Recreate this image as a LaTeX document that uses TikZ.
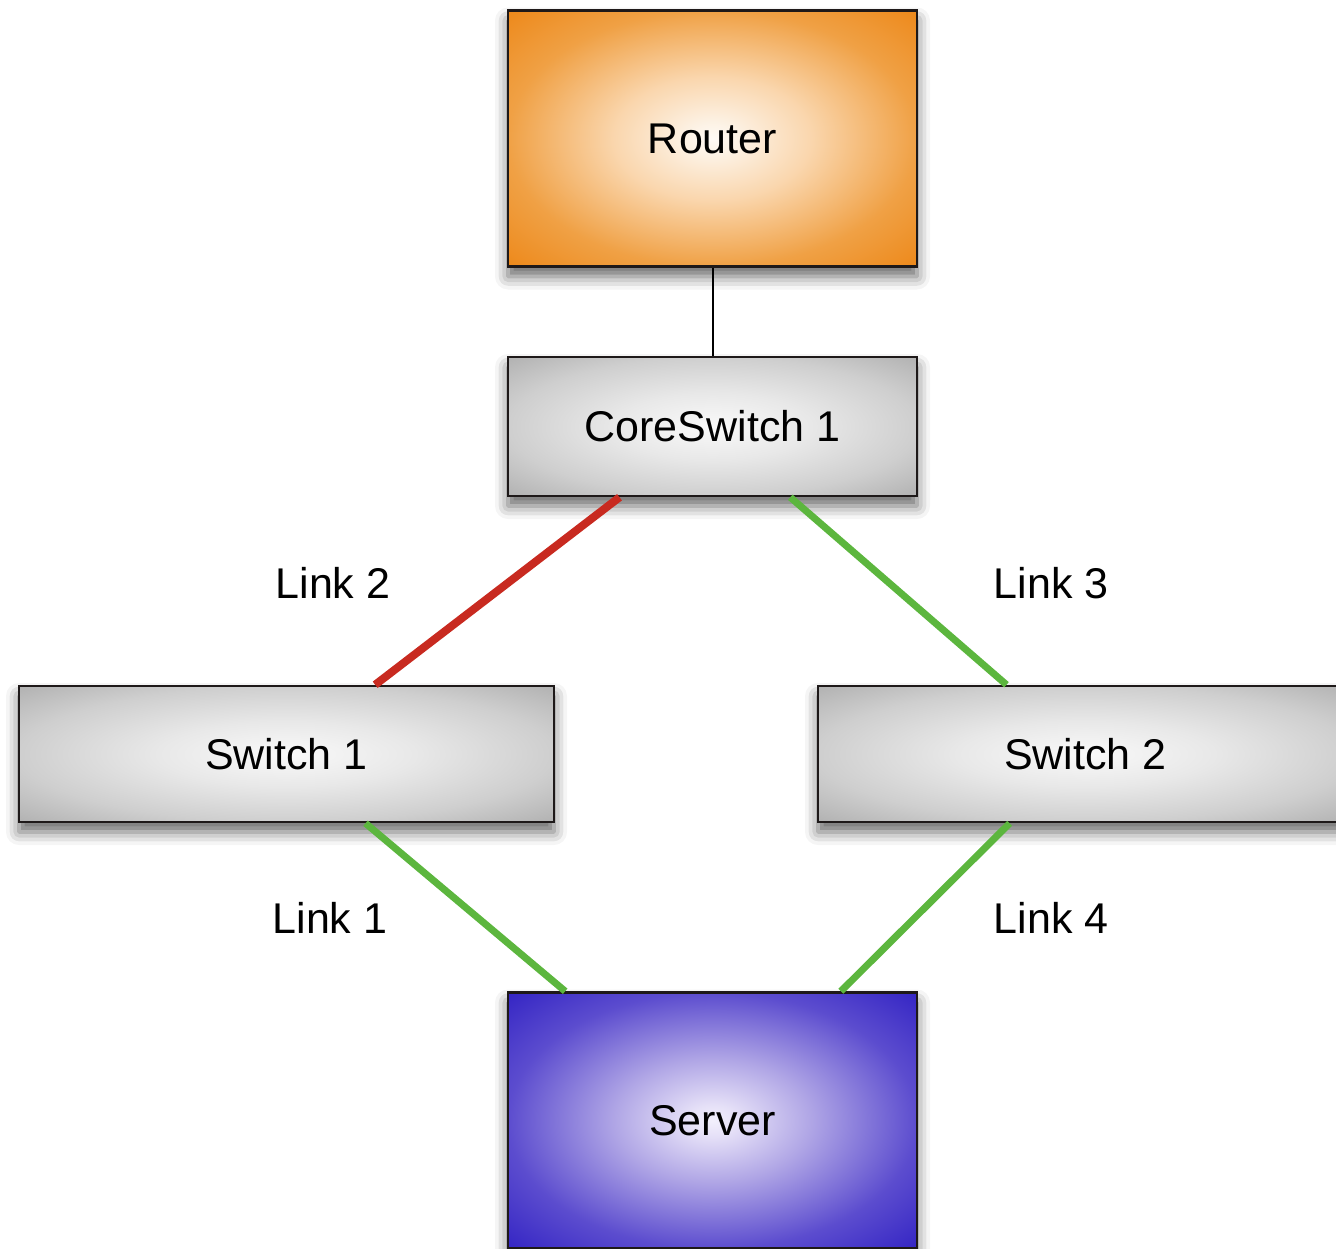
\documentclass[tikz,border=0pt]{standalone}
\usepackage{fontspec}
\setmainfont{Liberation Sans}
\usetikzlibrary{calc,shadows.blur}
\pgfdeclareradialshading{routershade}{\pgfpoint{0bp}{0bp}}{rgb(0bp)=(1,0.98,0.96); rgb(3bp)=(0.99,0.95,0.90); rgb(12bp)=(0.98,0.84,0.68); rgb(25bp)=(0.94,0.63,0.27); rgb(35bp)=(0.93,0.54,0.11); rgb(50bp)=(0.93,0.54,0.11)}
\pgfdeclareradialshading{grayshade}{\pgfpoint{0bp}{0bp}}{rgb(0bp)=(0.98,0.98,0.98); rgb(3bp)=(0.96,0.96,0.96); rgb(12bp)=(0.91,0.91,0.91); rgb(25bp)=(0.81,0.81,0.81); rgb(35bp)=(0.70,0.70,0.70); rgb(50bp)=(0.70,0.70,0.70)}
\pgfdeclareradialshading{servershade}{\pgfpoint{0bp}{0bp}}{rgb(0bp)=(0.95,0.94,0.99); rgb(3bp)=(0.90,0.88,0.97); rgb(12bp)=(0.69,0.65,0.90); rgb(25bp)=(0.36,0.30,0.81); rgb(35bp)=(0.21,0.15,0.77); rgb(50bp)=(0.21,0.15,0.77)}
\definecolor{linkred}{RGB}{200,42,32}
\definecolor{linkgreen}{RGB}{92,182,62}
\definecolor{boxborder}{RGB}{30,25,25}
\tikzset{
  box/.style={draw=boxborder, line width=2.5pt, rectangle, inner sep=0pt,
    font=\fontsize{43}{50}\selectfont,
    blur shadow={shadow xshift=0pt, shadow yshift=-10pt, shadow blur radius=13pt, shadow opacity=60}},
  routerbox/.style={box, shading=routershade, minimum width=409pt, minimum height=256pt},
  corebox/.style={box, shading=grayshade, minimum width=409pt, minimum height=139pt},
  switchbox/.style={box, shading=grayshade, minimum width=535pt, minimum height=136pt},
  serverbox/.style={box, shading=servershade, minimum width=409pt, minimum height=256pt},
  uplink/.style={draw=black, line width=2pt},
  redlink/.style={draw=linkred, line width=8pt},
  greenlink/.style={draw=linkgreen, line width=7pt},
  linklabel/.style={font=\fontsize{43}{50}\selectfont, inner sep=0pt}
}
\begin{document}
\begin{tikzpicture}[x=1pt,y=-1pt]
\useasboundingbox (0,0) rectangle (1336,1249);
\node[routerbox] (router) at (712.5,138.5) {Router};
\node[corebox] (core) at (712.5,426.5) {CoreSwitch 1};
\node[switchbox] (sw1) at (286.5,754) {Switch 1};
\node[switchbox] (sw2) at (1085.5,754) {Switch 2};
\node[serverbox] (server) at (712.5,1120.5) {Server};
\draw[uplink] (router.south) -- (core.north);
\draw[redlink] ($(core.south west)!0.274!(core.south east)$) -- ($(sw1.north west)!0.665!(sw1.north east)$);
\draw[greenlink] ($(core.south west)!0.689!(core.south east)$) -- ($(sw2.north west)!0.353!(sw2.north east)$);
\draw[greenlink] ($(sw1.south west)!0.647!(sw1.south east)$) -- ($(server.north west)!0.142!(server.north east)$);
\draw[greenlink] ($(sw2.south west)!0.359!(sw2.south east)$) -- ($(server.north west)!0.812!(server.north east)$);
\node[linklabel] (l2) at (333,583) {Link 2};
\node[linklabel] (l3) at (1051,583) {Link 3};
\node[linklabel] (l1) at (330,918) {Link 1};
\node[linklabel] (l4) at (1051,918) {Link 4};
\end{tikzpicture}
\end{document}
